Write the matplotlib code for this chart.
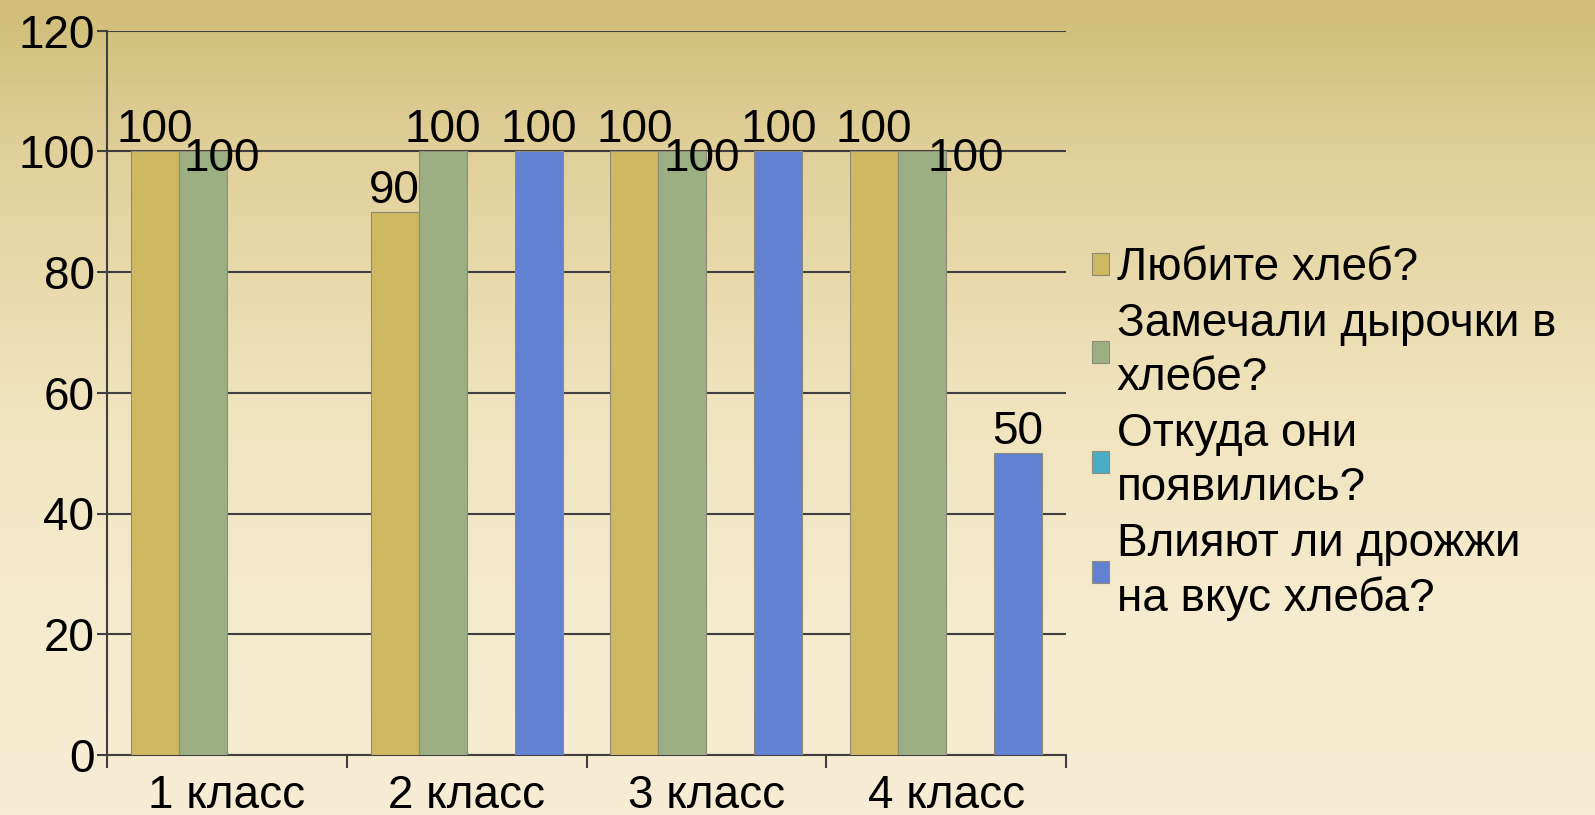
import numpy as np
import matplotlib
matplotlib.use("Agg")
import matplotlib.pyplot as plt
from matplotlib.patches import Patch
from matplotlib.colors import LinearSegmentedColormap

# ---------------- data ----------------
categories = ["1 класс", "2 класс", "3 класс", "4 класс"]
series_names = ["Любите хлеб?", "Замечали дырочки в\nхлебе?", "Откуда они\nпоявились?",
                "Влияют ли дрожжи\nна вкус хлеба?"]
s_like = [100, 90, 100, 100]
s_holes = [100, 100, 100, 100]
s_where = [0, 0, 0, 0]
s_yeast = [0, 100, 100, 50]
y_ticks = [0, 20, 40, 60, 80, 100, 120]

series_values = [s_like, s_holes, s_where, s_yeast]
colors = ["#CFB862", "#9BAF83", "#4BACC6", "#6281D3"]

# label nudges in pixels (dx, dy) relative to the default "above bar" placement
label_nudge = {(1, 0): (19, -29), (1, 2): (19, -29), (1, 3): (44, -29)}

plt.rcParams['font.family'] = ['Liberation Sans', 'DejaVu Sans']
FS = 33
W, H = 1595, 815
fig = plt.figure(figsize=(W / 100, H / 100), dpi=100)

# background gradient
bg = fig.add_axes([0, 0, 1, 1], zorder=-10)
cmap = LinearSegmentedColormap.from_list("bg", [
    (0.0, (208/255, 189/255, 120/255)),
    (0.2, (226/255, 209/255, 156/255)),
    (0.5, (240/255, 228/255, 190/255)),
    (0.75, (245/255, 235/255, 206/255)),
    (1.0, (247/255, 237/255, 213/255))])
grad = np.linspace(0, 1, 256).reshape(-1, 1)
bg.imshow(grad, aspect='auto', cmap=cmap, extent=[0, 1, 0, 1], origin='upper')
bg.set_axis_off()

ax = fig.add_axes([107 / W, 1 - 755 / H, (1066 - 107) / W, (755 - 30.5) / H])
ax.set_facecolor('none')

n = len(series_values)
bw = 0.2
x = np.arange(len(categories))
px2pt = 72 / 100
for i, vals in enumerate(series_values):
    off = (i - (n - 1) / 2) * bw
    ax.bar(x + off, vals, width=bw, color=colors[i], edgecolor='#8f8b78',
           linewidth=0.8, zorder=3)
    for j, v in enumerate(vals):
        if v == 0:
            continue
        dx, dy = label_nudge.get((i, j), (0, 0))
        ax.annotate(str(v), xy=(x[j] + off, v),
                    xytext=(dx * px2pt, (9 + dy) * px2pt),
                    textcoords='offset points', ha='center', va='baseline',
                    fontsize=FS, color='black', zorder=5)

ax.set_xlim(-0.5, len(categories) - 0.5)
ax.set_ylim(0, 120)
ax.set_yticks(y_ticks)
ax.set_yticklabels([str(t) for t in y_ticks])
ax.yaxis.grid(True, color='#3f3f3f', linewidth=1.5)
ax.set_axisbelow(True)

ax.set_xticks(np.arange(-0.5, len(categories), 1.0))
ax.set_xticklabels([])
ax.set_xticks(x, minor=True)
ax.set_xticklabels(categories, minor=True)
ax.tick_params(axis='x', which='major', length=9, width=1.5, color='#3f3f3f', direction='out')
ax.tick_params(axis='x', which='minor', length=0, pad=14, labelsize=FS)
ax.tick_params(axis='y', length=7, width=1.5, color='#3f3f3f', pad=2, labelsize=FS)

for s in ['top', 'right']:
    ax.spines[s].set_visible(False)
for s in ['left', 'bottom']:
    ax.spines[s].set_color('#3f3f3f')
    ax.spines[s].set_linewidth(1.5)

handles = [Patch(facecolor=c, edgecolor='#8f8b78', linewidth=0.8) for c in colors]
leg = fig.legend(handles, series_names, loc='upper left',
                 bbox_to_anchor=(1092 / W, 1 - 246 / H), frameon=False, fontsize=FS,
                 handlelength=0.36, handleheight=0.36, handletextpad=0.18,
                 labelspacing=0.26, borderpad=0, borderaxespad=0)
for t in leg.get_texts():
    t.set_linespacing(1.30)

fig.savefig("out.png", dpi=100)
